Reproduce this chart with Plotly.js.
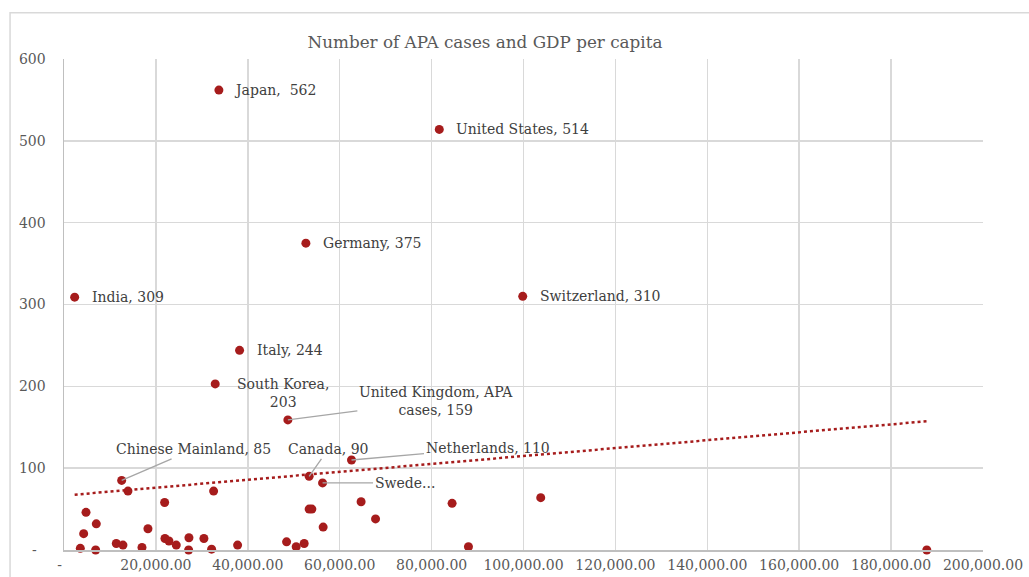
<!DOCTYPE html>
<html>
<head>
<meta charset="utf-8">
<script src="https://cdn.plot.ly/plotly-3.0.1.min.js"></script>
<style>html,body{margin:0;padding:0;background:#fff;}#chart{width:1029px;height:577px;}</style>
</head>
<body>
<div id="chart"></div>
<script>
// ---- data ----
const countries = ["Japan","United States","Germany","India","Switzerland","Italy","South Korea","United Kingdom","Chinese Mainland","Canada","Netherlands","Sweden",
  "","","","","","","","","","","","","","","","","","","","","","","","","","","","","","","",""];
const gdpPerCapita = [33710,81670,52640,2320,99830,38210,32910,48720,12550,53350,62570,56270,
  3550,4280,4790,7030,6890,11380,12830,13920,16970,18270,21900,21970,22840,24430,27190,27120,30450,32120,32560,37780,48440,50530,52270,53350,53940,56400,64660,67800,84460,88020,103750,187770];
const apaCases = [562,514,375,309,310,244,203,159,85,90,110,82,
  2,20,46,32,0,8,6,72,3,26,58,14,11,6,15,0,14,1,72,6,10,4,8,50,50,28,59,38,57,4,64,0];
const labelTexts = ["Japan,  562","United States, 514","Germany, 375","India, 309","Switzerland, 310","Italy, 244","South Korea,<br>203","United Kingdom, APA<br>cases, 159","Chinese Mainland, 85","Canada, 90","Netherlands, 110","Swede..."];
const xTickVals = [0,20000,40000,60000,80000,100000,120000,140000,160000,180000,200000];
const xTickText = ["-\u00a0\u00a0","20,000.00","40,000.00","60,000.00","80,000.00","100,000.00","120,000.00","140,000.00","160,000.00","180,000.00","200,000.00"];
const yTickVals = [0,100,200,300,400,500,600];
const yTickText = ["-\u00a0\u00a0","100","200","300","400","500","600"];
const chartTitle = "Number of APA cases and GDP per capita";

// ---- linear trendline (least squares) ----
const n = gdpPerCapita.length;
const mx = gdpPerCapita.reduce((a,b)=>a+b,0)/n;
const my = apaCases.reduce((a,b)=>a+b,0)/n;
let sxy=0,sxx=0;
for(let i=0;i<n;i++){sxy+=(gdpPerCapita[i]-mx)*(apaCases[i]-my);sxx+=(gdpPerCapita[i]-mx)**2;}
const slope = sxy/sxx, intercept = my - slope*mx;
const xMin = Math.min(...gdpPerCapita), xMax = Math.max(...gdpPerCapita);
const trendX = [xMin, xMax];
const trendY = trendX.map(v=>intercept+slope*v);

const RED = '#a61c1c';
const FONT = '"DejaVu Serif", Georgia, serif';

const traces = [
  {type:'scatter', mode:'markers', x:gdpPerCapita, y:apaCases,
   marker:{color:RED, size:9}, hoverinfo:'skip', cliponaxis:false},
  {type:'scatter', mode:'lines', x:trendX, y:trendY,
   line:{color:RED, width:2.5, dash:'dot'}, hoverinfo:'skip'}
];

// label placement (pixel offsets: right, down)
const plain = {0:[13,0],1:[15,0],2:[15,0],3:[15,0],4:[15,0],5:[15,0],6:[20,9.5]};
const leader = {7:[148,-19],8:[72,-31],9:[19,-27],10:[136,-12],11:[82,0]};
const annotations = [];
for(let i=0;i<labelTexts.length;i++){
  const base = {x:gdpPerCapita[i], y:apaCases[i], text:labelTexts[i], xref:'x', yref:'y',
    font:{family:FONT, size:14, color:'#404040'}, align:'center'};
  if(plain[i]){
    annotations.push(Object.assign(base,{showarrow:false, xanchor:'left', yanchor:'middle', xshift:plain[i][0], yshift:-plain[i][1]}));
  } else {
    annotations.push(Object.assign(base,{showarrow:true, arrowhead:0, arrowwidth:1.3, arrowcolor:'#a6a6a6', ax:leader[i][0], ay:leader[i][1], standoff:0}));
  }
}

const layout = {
  width:1029, height:577,
  margin:{l:64, r:46, t:59, b:27},
  paper_bgcolor:'#ffffff', plot_bgcolor:'#ffffff',
  showlegend:false, hovermode:false,
  title:{text:chartTitle, x:485/1029, xanchor:'center', xref:'container', y:1-42/577, yanchor:'middle', yref:'container',
    font:{family:FONT, size:16.8, color:'#595959'}},
  xaxis:{range:[0,200000], tickvals:xTickVals, ticktext:xTickText, showgrid:true, gridcolor:'#d9d9d9', gridwidth:1.5,
    zeroline:false, showline:true, linecolor:'#bfbfbf', linewidth:1.5, ticks:'', ticklabelstandoff:2,
    tickfont:{family:FONT, size:14, color:'#595959'}, fixedrange:true},
  yaxis:{range:[0,600], tickvals:yTickVals, ticktext:yTickText, showgrid:true, gridcolor:'#d9d9d9', gridwidth:1.5,
    zeroline:false, showline:true, linecolor:'#bfbfbf', linewidth:1.5, ticks:'', ticklabelstandoff:14,
    tickfont:{family:FONT, size:14, color:'#595959'}, fixedrange:true},
  annotations: annotations,
  shapes:[{type:'rect', xref:'paper', yref:'paper', x0:-0.0587, x1:1.2, y0:-0.2, y1:1.0943,
    line:{color:'#d9d9d9', width:1.5}, fillcolor:'rgba(0,0,0,0)', layer:'below'}]
};

Plotly.newPlot('chart', traces, layout, {staticPlot:true, displayModeBar:false});
</script>
</body>
</html>
